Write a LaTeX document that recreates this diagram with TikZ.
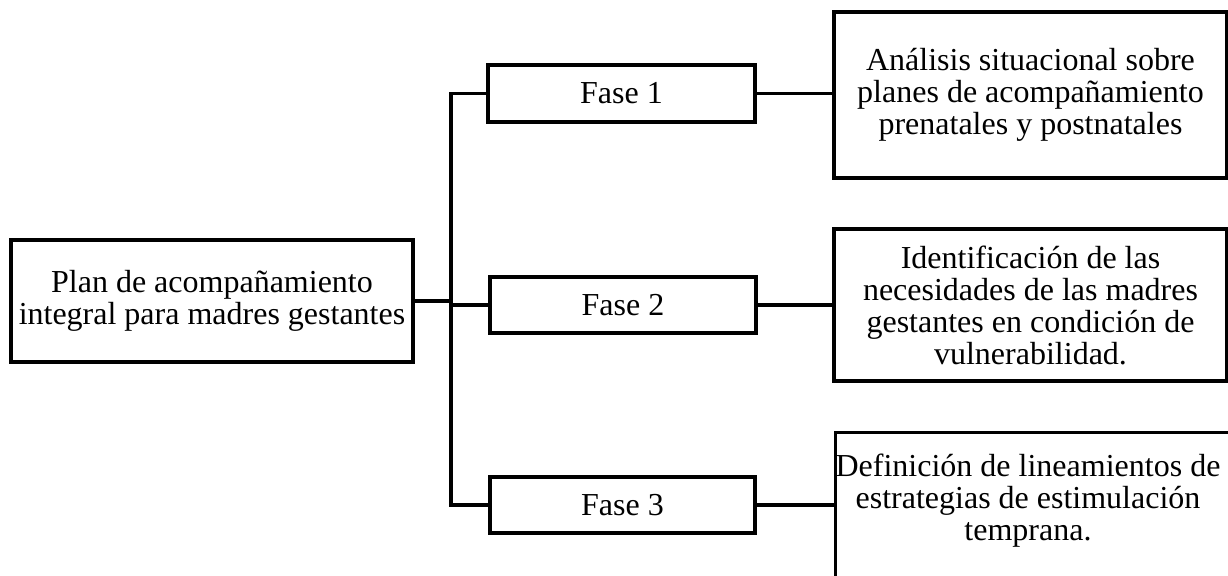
\documentclass[tikz,border=0pt]{standalone}
\usepackage{fontspec}
\setmainfont{Liberation Serif}
\begin{document}
\begin{tikzpicture}[x=0.75pt,y=-0.75pt,
  box/.style={draw=black,line width=2.4pt,fill=white,inner sep=0pt,align=center,
    font=\fontsize{24}{24}\selectfont},
  link/.style={draw=black,line width=2.4pt}]
\clip (0,0) rectangle (1228,575);
\fill[white] (0,0) rectangle (1228,575);
% main
\node[box,minimum width=301.5pt,minimum height=91.5pt] (main) at (212,301)
  {Plan de acompañamiento\\integral para madres gestantes};
% phases
\node[box,minimum width=200.25pt,minimum height=42.75pt] (f1) at (621.5,93.5) {Fase 1};
\node[box,minimum width=199.5pt,minimum height=42pt] (f2) at (623,305) {Fase 2};
\node[box,minimum width=198.75pt,minimum height=42pt] (f3) at (622.5,505) {Fase 3};
% right boxes
\node[box,minimum width=294.75pt,minimum height=124.5pt] (r1) at (1030.5,95)
  {Análisis situacional sobre\\planes de acompañamiento\\prenatales y postnatales};
\node[box,minimum width=294.75pt,minimum height=114pt] (r2) at (1030.5,305)
  {Identificación de las\\necesidades de las madres\\gestantes en condición de\\vulnerabilidad.};
\node[box,minimum width=307.5pt,minimum height=135pt,anchor=north west] (r3box) at (834,431) {};
\node[align=center,inner sep=0pt,font=\fontsize{24}{24}\selectfont] (r3) at (1028,501)
  {Definición de lineamientos de\\estrategias de estimulación\\temprana.};
% trunk
\coordinate (tk) at (451,0);
\draw[link] (f1.west) -- (f1.west -| tk) -- (f3.west -| tk) -- (f3.west);
\draw[link] (main.east) -- (main.east -| tk);
\draw[link] (f2.west) -- (f2.west -| tk);
% right connectors
\draw[link] (f1.east) -- (f1.east -| r1.west);
\draw[link] (f2.east) -- (f2.east -| r2.west);
\draw[link] (f3.east) -- (f3.east -| r3box.west);
\end{tikzpicture}
\end{document}
